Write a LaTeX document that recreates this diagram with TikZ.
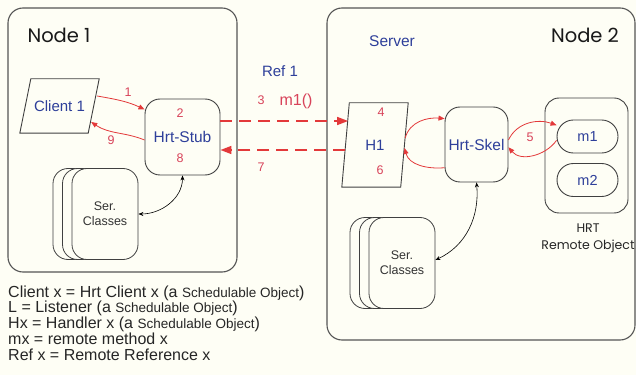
\documentclass[tikz,border=0pt]{standalone}
\usepackage{fontspec}
\setmainfont{Liberation Sans}
\newfontfamily\geofont{Poppins}
\usepackage{tikz}
\usetikzlibrary{arrows.meta, calc}

\definecolor{paper}{HTML}{FEFEF5}
\definecolor{refblue}{HTML}{2E3F9A}
\definecolor{stepred}{HTML}{D8435A}
\definecolor{callred}{HTML}{E3393A}
\definecolor{frame}{HTML}{555555}

\newcommand{\SchedObj}{{\fontsize{13.5}{15}\selectfont Schedulable Object}}
\newcommand{\SerStack}[3]{
	\def\lname{#1}
	\node[serbox] (\lname c) at (#2-19,#3) {};
	\node[serbox] (\lname b) at (#2-9.5,#3) {};
	\node[serbox] (\lname) at (#2,#3) {Ser.\\Classes};
}
% slanted outline round a named node
\newcommand{\ParaFrame}[2]{
	\draw[paraline] (#1.south west) -- ([xshift=#2pt]#1.north west) -- (#1.north east) -- ([xshift=-#2pt]#1.south east) -- cycle;
}

\tikzset{
	hostbox/.style={draw=frame, line width=1.1pt, rounded corners=15pt},
	objbox/.style={draw=black!75, line width=0.9pt, fill=paper, rounded corners=15pt, inner sep=2pt, text=refblue, font=\fontsize{15.5}{17}\selectfont},
	pill/.style={draw=black!75, line width=0.9pt, fill=paper, rounded corners=16.4pt, minimum width=61pt, minimum height=33pt, text=refblue, font=\fontsize{14.5}{16}\selectfont},
	serbox/.style={draw=black!75, line width=0.8pt, fill=paper, rounded corners=15pt, minimum width=66pt, minimum height=91pt, align=center, font=\fontsize{12.5}{15}\selectfont, text=black!80},
	para/.style={inner sep=0pt, text=refblue, font=\fontsize{15}{17}\selectfont},
	paraline/.style={draw=black!75, line width=0.9pt, line join=miter},
	stepnum/.style={text=stepred, font=\fontsize{12.5}{14}\selectfont},
	title/.style={font=\geofont\fontsize{19.5}{21}\selectfont, text=black!90},
	legend/.style={anchor=base west, inner sep=0pt, font=\fontsize{16}{18}\selectfont, text=black!85},
	call/.style={callred, line width=0.8pt, -{Triangle[length=6pt,width=5pt]}},
	remote/.style={callred, line width=1.6pt, dash pattern=on 12pt off 7pt, -{Triangle[length=11pt,width=8pt]}},
	link/.style={black, line width=0.6pt, {Stealth[length=5pt,width=4pt]}-{Stealth[length=5pt,width=4pt]}},
}

\begin{document}
\begin{tikzpicture}[x=1pt, y=1pt]
	\fill[paper] (0,0) rectangle (636,375);
	\useasboundingbox (0,0) rectangle (636,375);

	% hosts
	\node[hostbox, minimum width=229pt, minimum height=264pt] (hostA) at (122.5,235) {};
	\node[hostbox, minimum width=308pt, minimum height=332pt] (hostB) at (481,201) {};
	\node[title] (nameA) at (59,340) {Node 1};
	\node[title] (nameB) at (585,340) {Node 2};
	\node[text=refblue, font=\fontsize{15.5}{17}\selectfont] (server) at (392,334) {Server};
	\node[text=refblue, font=\fontsize{15}{17}\selectfont] (refA) at (280,304) {Ref 1};

	% node 1
	\node[para, minimum width=79pt, minimum height=54pt] (client) at (59.5,269) {Client 1};
	\ParaFrame{client}{11}
	\node[objbox, minimum width=75pt, minimum height=76pt] (stub) at (182.5,238) {Hrt-Stub};
	\node[stepnum] (sTwo) at (180,262) {2};
	\node[stepnum] (sEight) at (180,217) {8};
	\SerStack{serA}{105}{161}

	\draw[call] ([shift={(-2pt,10pt)}]client.east) to[out=-10, in=155] (stub.144);
	\draw[call] ([yshift=-3pt]stub.west) to[out=158, in=-34] ([shift={(-8pt,-16pt)}]client.east);
	\node[stepnum] (sOne) at (128,283) {1};
	\node[stepnum] (sNine) at (111,235) {9};
	\draw[link] (stub.south) to[out=-90, in=0] (serA.east);

	% node 2
	\node[para, minimum width=66pt, minimum height=84pt] (hone) at (375,230) {H1};
	\ParaFrame{hone}{7.5}
	\node[stepnum] (sFour) at (381,263) {4};
	\node[stepnum] (sSix) at (380,205) {6};
	\node[objbox, minimum width=63pt, minimum height=75pt] (skel) at (476.5,230.5) {Hrt-Skel};
	\node[draw=black!75, line width=0.9pt, rounded corners=14pt, minimum width=83pt, minimum height=115pt] (remobj) at (586.5,219.5) {};
	\node[pill] (mone) at (587.5,238.5) {m1};
	\node[pill] (mtwo) at (587.5,195) {m2};
	\node[align=center, font=\geofont\fontsize{12.5}{17}\selectfont, text=black!85] (hrt) at (588,136.5) {HRT\\Remote Object};
	\SerStack{serB}{402}{112}

	\draw[call] ([shift={(-3pt,7pt)}]hone.east) to[out=75, in=175] (skel.141);
	\draw[call] (skel.216) to[out=185, in=-75] ([shift={(-3.7pt,-3pt)}]hone.east);
	\draw[call] (skel.8) to[out=65, in=160] (mone.160);
	\draw[call] (mone.187) to[out=235, in=-50] (skel.-5);
	\node[stepnum] (sFive) at (530,238) {5};
	\draw[link] (skel.south) to[out=-85, in=25] ([yshift=3pt]serB.east);

	% remote call
	\draw[remote] ([yshift=16pt]stub.east) -- ([shift={(6.3pt,24pt)}]hone.west);
	\draw[remote] ([shift={(3.5pt,-5pt)}]hone.west) -- ([yshift=-13pt]stub.east);
	\node[stepnum] (sThree) at (261,275) {3};
	\node[text=stepred, font=\fontsize{16}{18}\selectfont] (mcall) at (296,274) {m1()};
	\node[stepnum] (sSeven) at (261,208) {7};

	% legend
	\node[legend] (legA) at (8,78) {Client x = Hrt Client x (a \SchedObj)};
	\node[legend] (legB) at (8,62.25) {L = Listener (a \SchedObj)};
	\node[legend] (legC) at (8,46.5) {Hx = Handler x (a \SchedObj)};
	\node[legend] (legD) at (8,30.75) {mx = remote method x};
	\node[legend] (legE) at (8,15) {Ref x = Remote Reference x};
\end{tikzpicture}
\end{document}
